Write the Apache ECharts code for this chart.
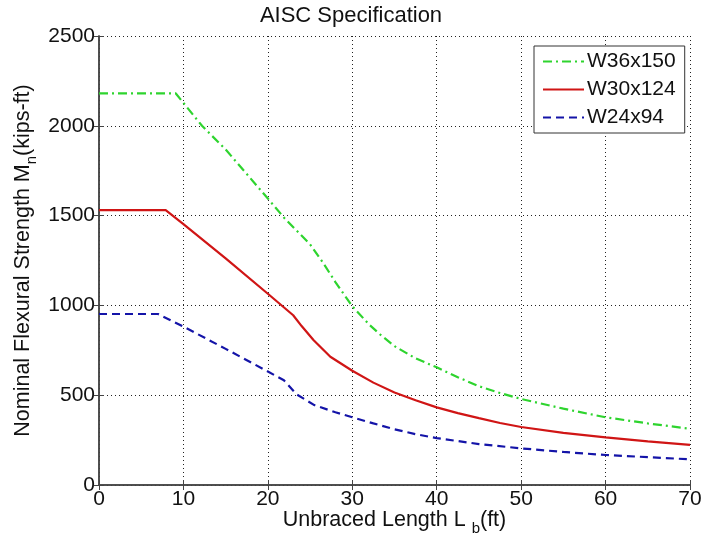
<!DOCTYPE html>
<html>
<head>
<meta charset="utf-8">
<script src="https://cdn.jsdelivr.net/npm/echarts@6/dist/echarts.min.js"></script>
<style>
html,body{margin:0;padding:0;background:#fff;}
#c{width:702px;height:539px;}
</style>
</head>
<body>
<div id="c"></div>
<script>
// Unbraced length (ft) and design strength (kip-ft)
const lbW36 = [0, 9.1, 12.2, 15, 20, 22, 25, 26.5, 28, 30, 32, 33.3, 35, 37.5, 40, 42.5, 45, 47.5, 50, 55, 60, 65, 70];
const mnW36 = [2180, 2180, 2000, 1868, 1595, 1484, 1340, 1240, 1130, 995, 893, 838, 773, 705, 655, 600, 550, 512, 479, 425, 377, 343, 313];

const lbW30 = [0, 7.9, 10, 15, 20, 23, 24, 25.4, 27.4, 30, 32.5, 35, 37.5, 40, 42.5, 45, 47.5, 50, 55, 60, 65, 70];
const mnW30 = [1530, 1530, 1452, 1262, 1065, 945, 885, 807, 714, 636, 570, 515, 472, 432, 400, 372, 345, 323, 290, 265, 243, 223];

const lbW24 = [0, 7, 10, 15, 20, 21.9, 23.4, 25.5, 28, 30, 32.5, 35, 37.5, 40, 45, 50, 55, 60, 65, 70];
const mnW24 = [952, 952, 882, 758, 632, 583, 505, 445, 405, 377, 343, 310, 283, 261, 228, 204, 184, 167, 155, 143];

const seriesNames = ['W36x150', 'W30x124', 'W24x94'];
const xTicks = { min: 0, max: 70, interval: 10 };
const yTicks = { min: 0, max: 2500, interval: 500 };

const FONT = '"Liberation Sans", Arial, sans-serif';
const chart = echarts.init(document.getElementById('c'), null, { renderer: 'canvas' });

function pairs(xs, ys) { return xs.map((x, i) => [x, ys[i]]); }

const axisCol = '#444';
const gridLine = { show: true, lineStyle: { color: '#222', type: [1, 3], width: 1 } };

chart.setOption({
  backgroundColor: '#fff',
  animation: false,
  title: {
    text: 'AISC Specification',
    left: 'center', top: 0,
    textStyle: { fontFamily: FONT, fontSize: 22, fontWeight: 'normal', color: '#111' }
  },
  grid: { left: 99, right: 12, top: 36, bottom: 54, containLabel: false, outerBoundsMode: 'none' },
  legend: {
    orient: 'vertical',
    left: 534, top: 46,
    padding: [5, 9, 5, 8],
    itemWidth: 41, itemHeight: 10, itemGap: 7,
    backgroundColor: '#fff',
    borderColor: '#333', borderWidth: 1, borderRadius: 0,
    itemStyle: { opacity: 0 },
    textStyle: { fontFamily: FONT, fontSize: 21, color: '#111', padding: [0, 0, 0, -2] },
    data: seriesNames
  },
  xAxis: [{
    type: 'value', min: xTicks.min, max: xTicks.max, interval: xTicks.interval,
    name: 'Unbraced Length L {s|b}(ft)',
    nameLocation: 'middle', nameGap: 20, nameMoveOverlap: false,
    nameTextStyle: { fontFamily: FONT, fontSize: 21.5, color: '#111',
      rich: { s: { fontFamily: FONT, fontSize: 15, color: '#111', padding: [16, 0, 0, 0] } } },
    axisLine: { show: true, lineStyle: { color: axisCol, width: 1.5 } },
    axisTick: { show: true, inside: true, length: 5, lineStyle: { color: axisCol } },
    axisLabel: { fontFamily: FONT, fontSize: 21, color: '#111', margin: 4 },
    splitLine: gridLine
  }, {
    type: 'value', position: 'top', min: xTicks.min, max: xTicks.max, interval: xTicks.interval,
    axisLine: { show: true, lineStyle: { color: axisCol, width: 1.5 } },
    axisTick: { show: true, inside: true, length: 5, lineStyle: { color: axisCol } },
    axisLabel: { show: false }, splitLine: { show: false }
  }],
  yAxis: [{
    type: 'value', min: yTicks.min, max: yTicks.max, interval: yTicks.interval,
    name: 'Nominal Flexural Strength M{s|n}(kips-ft)',
    nameLocation: 'middle', nameGap: 60, nameRotate: 90, nameMoveOverlap: false,
    nameTextStyle: { fontFamily: FONT, fontSize: 21.5, color: '#111',
      rich: { s: { fontFamily: FONT, fontSize: 15, color: '#111', padding: [16, 0, 0, 0] } } },
    axisLine: { show: true, lineStyle: { color: axisCol, width: 1.5 } },
    axisTick: { show: true, inside: true, length: 5, lineStyle: { color: axisCol } },
    axisLabel: { fontFamily: FONT, fontSize: 21, color: '#111', margin: 4, formatter: v => String(v) },
    splitLine: gridLine
  }, {
    type: 'value', position: 'right', min: yTicks.min, max: yTicks.max, interval: yTicks.interval,
    axisLine: { show: true, lineStyle: { color: axisCol, width: 1.5 } },
    axisTick: { show: true, inside: true, length: 5, lineStyle: { color: axisCol } },
    axisLabel: { show: false }, splitLine: { show: false }
  }],
  series: [{
    name: seriesNames[0], type: 'line', symbol: 'none', data: pairs(lbW36, mnW36),
    lineStyle: { color: '#2ed42e', width: 2.2, type: [9, 4, 2, 4] },
    itemStyle: { color: '#2ed42e' }
  }, {
    name: seriesNames[1], type: 'line', symbol: 'none', data: pairs(lbW30, mnW30),
    lineStyle: { color: '#d01515', width: 2.2, type: 'solid' },
    itemStyle: { color: '#d01515' }
  }, {
    name: seriesNames[2], type: 'line', symbol: 'none', data: pairs(lbW24, mnW24),
    lineStyle: { color: '#1414a8', width: 2.2, type: [8, 5] },
    itemStyle: { color: '#1414a8' }
  }]
});
</script>
</body>
</html>
